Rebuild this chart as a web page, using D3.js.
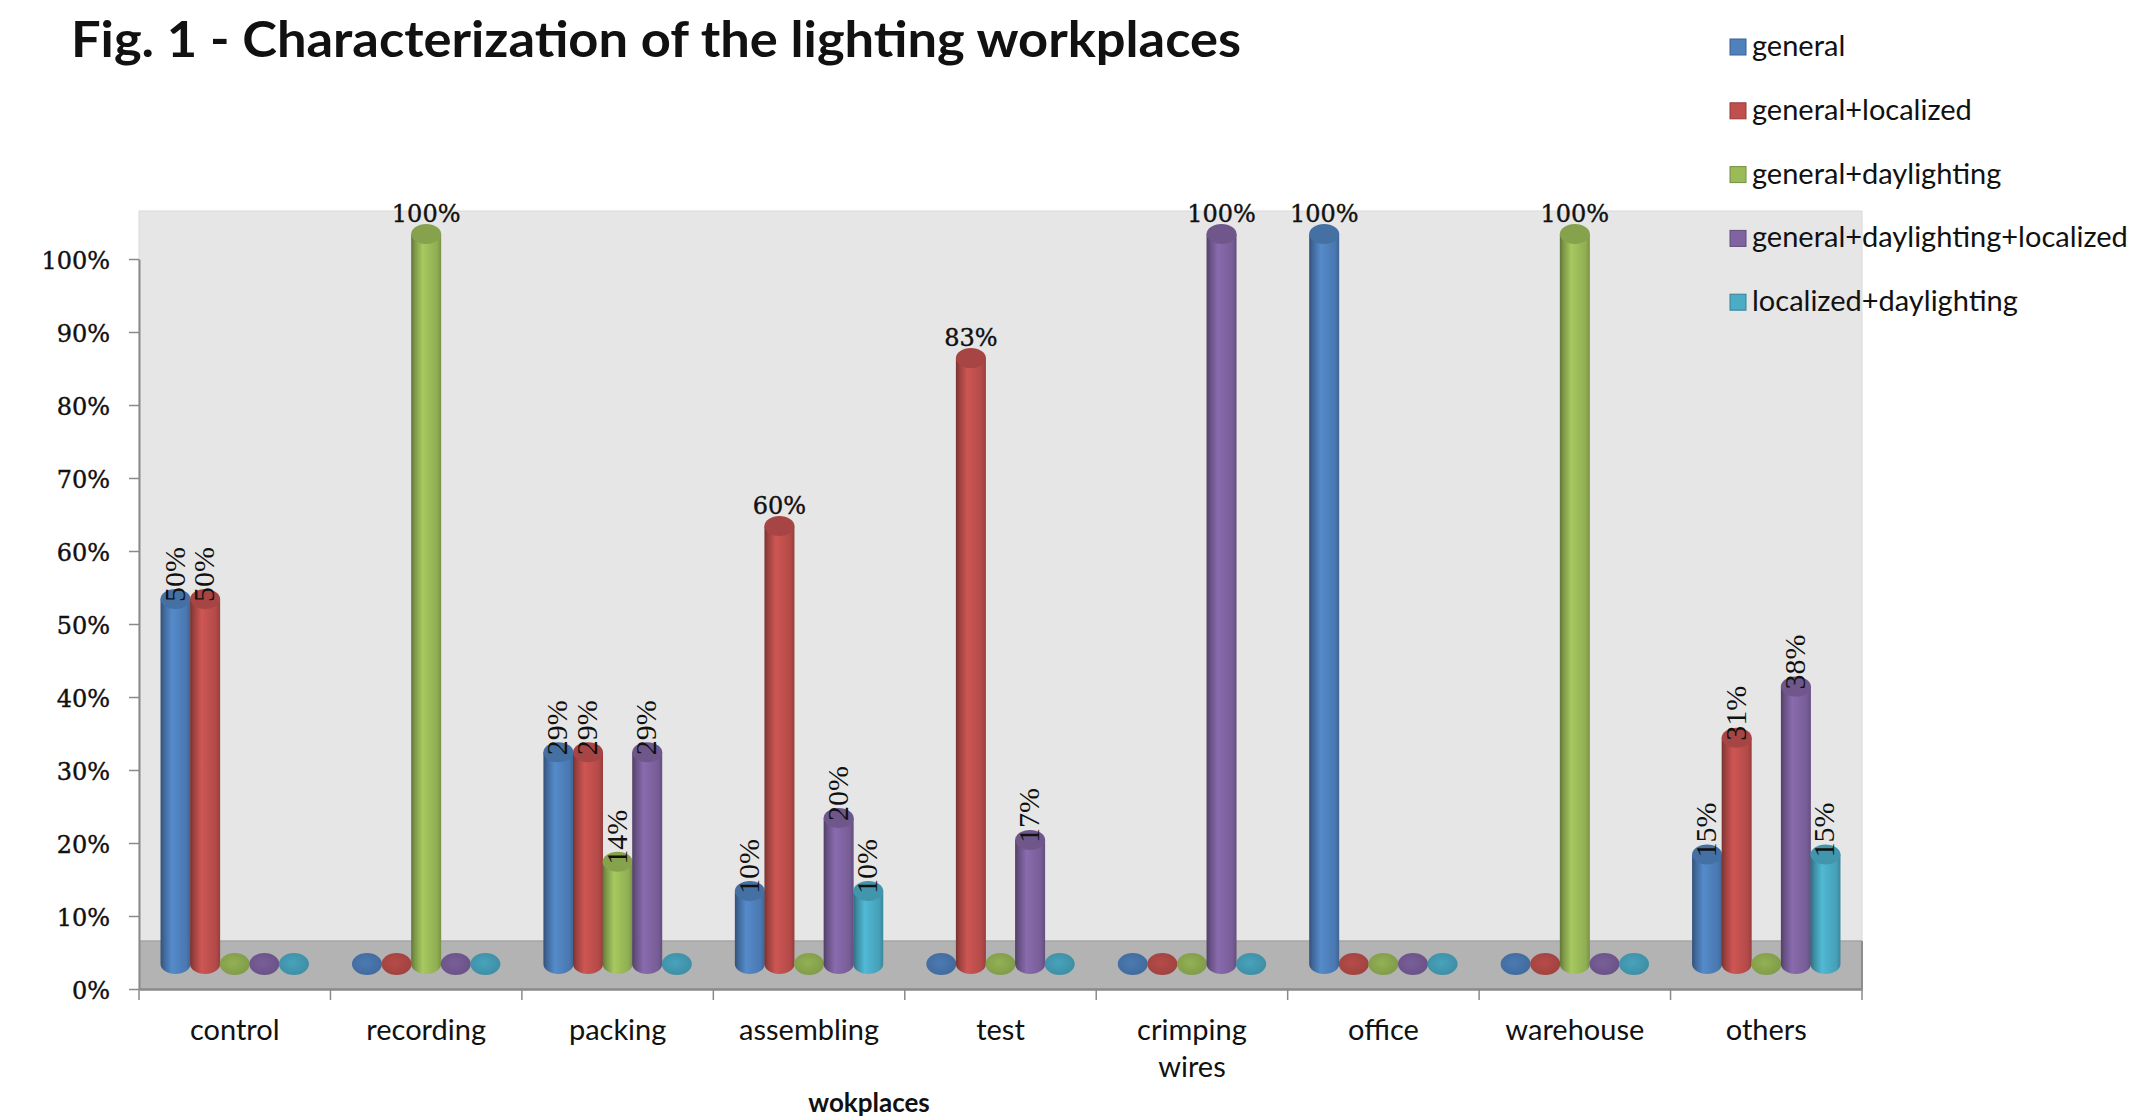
<!DOCTYPE html>
<html>
<head>
<meta charset="utf-8">
<script src="https://cdn.jsdelivr.net/npm/d3@7"></script>
<style>
  html, body { margin: 0; padding: 0; background: #fff; }
  svg { display: block; }
</style>
</head>
<body>
<svg id="chart" width="2139" height="1120"></svg>
<script>
// ---- data ----
const categories = ["control", "recording", "packing", "assembling", "test", "crimping wires", "office", "warehouse", "others"];
const seriesNames = ["general", "general+localized", "general+daylighting", "general+daylighting+localized", "localized+daylighting"];
const general                     = [50, 0, 29, 10, 0, 0, 100, 0, 15];
const generalLocalized            = [50, 0, 29, 60, 83, 0, 0, 0, 31];
const generalDaylighting          = [0, 100, 14, 0, 0, 0, 0, 100, 0];
const generalDaylightingLocalized = [0, 0, 29, 20, 17, 100, 0, 0, 38];
const localizedDaylighting        = [0, 0, 0, 10, 0, 0, 0, 0, 15];
const yTicks = [0, 10, 20, 30, 40, 50, 60, 70, 80, 90, 100];
const seriesColors = ["#4F81BD", "#C0504D", "#9BBB59", "#8064A2", "#4BACC6"];
const titleText = "Fig. 1 - Characterization of the lighting workplaces";
const xAxisTitle = "wokplaces";

const seriesValues = [general, generalLocalized, generalDaylighting, generalDaylightingLocalized, localizedDaylighting];

// ---- layout ----
const svg = d3.select("#chart");
const plotLeft = 139, plotRight = 1862, wallTop = 211;
const depth = 25;          // 3-D offset of the bar bases above the axis
const floorH = 48;
const rx = 15, ry = 10;    // cylinder radius / cap ellipse

const x = d3.scaleBand().domain(categories).range([plotLeft, plotRight]).padding(0);
const xs = d3.scaleBand().domain(seriesNames).range([-74, 74]).padding(0);
const y = d3.scaleLinear().domain([0, 100]).range([989, 259]);
const color = d3.scaleOrdinal().domain(seriesNames).range(seriesColors);

// ---- gradients for the cylinders ----
const defs = svg.append("defs");
seriesNames.forEach((s, i) => {
  const c = d3.color(color(s));
  const g = defs.append("linearGradient").attr("id", "cyl" + i)
    .attr("x1", "0").attr("x2", "1").attr("y1", "0").attr("y2", "0");
  [[0, c.darker(1.3)], [0.12, c.darker(0.6)], [0.38, c.brighter(0.2)],
   [0.62, c], [0.86, c.darker(0.2)], [1, c.darker(0.7)]]
    .forEach(([o, col]) => g.append("stop").attr("offset", o).attr("stop-color", col.formatHex()));
  const r = defs.append("radialGradient").attr("id", "disc" + i)
    .attr("cx", "0.45").attr("cy", "0.45").attr("r", "0.6");
  r.append("stop").attr("offset", 0).attr("stop-color", c.darker(0.15).formatHex());
  r.append("stop").attr("offset", 1).attr("stop-color", c.darker(0.55).formatHex());
});

// ---- title ----
svg.append("text")
  .attr("x", 71).attr("y", 57)
  .attr("textLength", 1170).attr("lengthAdjust", "spacingAndGlyphs")
  .style("font-family", "Lato, 'Open Sans', sans-serif")
  .style("font-weight", "bold").style("font-size", "50px").style("fill", "#111")
  .text(titleText);

// ---- walls ----
svg.append("rect")
  .attr("x", plotLeft).attr("y", wallTop)
  .attr("width", plotRight - plotLeft).attr("height", y(0) - wallTop)
  .attr("fill", "#E6E6E6").attr("stroke", "#DADADA").attr("stroke-width", 1);
svg.append("rect")
  .attr("x", plotLeft).attr("y", y(0) - floorH)
  .attr("width", plotRight - plotLeft).attr("height", floorH)
  .attr("fill", "#B3B3B3");
svg.append("line")
  .attr("x1", plotLeft).attr("x2", plotRight)
  .attr("y1", y(0) - floorH).attr("y2", y(0) - floorH)
  .attr("stroke", "#A6A6A6").attr("stroke-width", 1.5);
svg.append("line")
  .attr("x1", plotRight).attr("x2", plotRight)
  .attr("y1", y(0) - floorH).attr("y2", y(0))
  .attr("stroke", "#8E8E8E").attr("stroke-width", 2);

// ---- y axis ----
const yAxis = svg.append("g")
  .attr("transform", `translate(${plotLeft},0)`)
  .call(d3.axisLeft(y).tickValues(yTicks).tickFormat(d => d + "%")
    .tickSize(10).tickSizeOuter(0).tickPadding(19));
yAxis.select(".domain").attr("stroke", "#8A8A8A").attr("stroke-width", 2);
yAxis.selectAll(".tick line").attr("stroke", "#8A8A8A").attr("stroke-width", 1.5);
yAxis.selectAll(".tick text")
  .style("font-family", "'DejaVu Serif', serif").style("font-size", "24px")
  .style("fill", "#111").style("stroke", "#111").style("stroke-width", 0.4)
  .attr("dy", "0.4em");

// ---- x axis ----
const xAxis = svg.append("g")
  .attr("transform", `translate(0,${y(0)})`)
  .call(d3.axisBottom(x).tickSize(0).tickSizeOuter(0).tickFormat(""));
xAxis.select(".domain").attr("stroke", "#8A8A8A").attr("stroke-width", 2.5);
const boundaries = categories.map(c => x(c)).concat([x(categories[categories.length - 1]) + x.bandwidth()]);
xAxis.selectAll(".bound").data(boundaries).join("line")
  .attr("class", "bound")
  .attr("x1", d => d).attr("x2", d => d)
  .attr("y1", 0).attr("y2", 11)
  .attr("stroke", "#8A8A8A").attr("stroke-width", 1.5);
const catLabels = xAxis.selectAll(".cat").data(categories).join("text")
  .attr("class", "cat")
  .attr("text-anchor", "middle")
  .attr("transform", d => `translate(${x(d) + x.bandwidth() / 2},51)`)
  .style("font-family", "Lato, 'Open Sans', sans-serif")
  .style("font-size", "29px").style("fill", "#111");
catLabels.each(function (d) {
  const words = d.split(" ");
  d3.select(this).selectAll("tspan").data(words).join("tspan")
    .attr("x", 0).attr("dy", (w, i) => i === 0 ? 0 : 37).text(w => w);
});

svg.append("text")
  .attr("x", plotLeft + 730).attr("y", 1112)
  .attr("text-anchor", "middle")
  .style("font-family", "Lato, 'Open Sans', sans-serif")
  .style("font-weight", "bold").style("font-size", "26px").style("fill", "#111")
  .text(xAxisTitle);

// ---- cylinders ----
const points = [];
categories.forEach((cat, ci) => {
  seriesNames.forEach((s, si) => {
    points.push({ cat, s, si, v: seriesValues[si][ci] });
  });
});
const cxOf = d => x(d.cat) + x.bandwidth() / 2 + xs(d.s) + xs.bandwidth() / 2;
const baseY = y(0) - depth;
const topOf = d => y(d.v) - depth;

const bars = svg.append("g").selectAll("g").data(points).join("g");

bars.filter(d => d.v > 0).append("path")
  .attr("d", d => {
    const cx = cxOf(d), t = topOf(d);
    return `M${cx - rx},${t} L${cx - rx},${baseY} A${rx},${ry} 0 0 0 ${cx + rx},${baseY} L${cx + rx},${t} Z`;
  })
  .attr("fill", d => `url(#cyl${d.si})`);
bars.filter(d => d.v > 0).append("ellipse")
  .attr("cx", cxOf).attr("cy", topOf)
  .attr("rx", rx).attr("ry", ry)
  .attr("fill", d => d3.color(color(d.s)).darker(0.4).formatHex());
bars.filter(d => d.v === 0).append("ellipse")
  .attr("cx", cxOf).attr("cy", baseY)
  .attr("rx", rx).attr("ry", 11)
  .attr("fill", d => `url(#disc${d.si})`);

// ---- value labels ----
const labels = svg.append("g");
labels.selectAll(".hl").data(points.filter(d => d.v >= 60)).join("text")
  .attr("class", "hl")
  .attr("x", cxOf).attr("y", d => topOf(d) - ry - 2)
  .attr("text-anchor", "middle")
  .style("font-family", "'DejaVu Serif', serif").style("font-size", "24px")
  .style("fill", "#111").style("stroke", "#111").style("stroke-width", 0.4)
  .text(d => d.v + "%");
labels.selectAll(".vl").data(points.filter(d => d.v > 0 && d.v < 60)).join("text")
  .attr("class", "vl")
  .attr("transform", d => `translate(${cxOf(d) + 9},${topOf(d) + 3}) rotate(-90)`)
  .attr("text-anchor", "start")
  .style("font-family", "'Liberation Serif', 'Times New Roman', serif").style("font-size", "30px").style("fill", "#111")
  .text(d => d.v + "%");

// ---- legend ----
const legend = svg.append("g").selectAll("g").data(seriesNames).join("g")
  .attr("transform", (d, i) => `translate(1730,${56 + i * 63.8})`);
legend.append("rect")
  .attr("x", 0).attr("y", -17).attr("width", 16).attr("height", 16)
  .attr("fill", d => color(d))
  .attr("stroke", d => d3.color(color(d)).darker(0.8).formatHex()).attr("stroke-width", 1);
legend.append("text")
  .attr("x", 22).attr("y", 0)
  .style("font-family", "Lato, 'Open Sans', sans-serif")
  .style("font-size", "29px").style("fill", "#111")
  .text(d => d);
</script>
</body>
</html>
